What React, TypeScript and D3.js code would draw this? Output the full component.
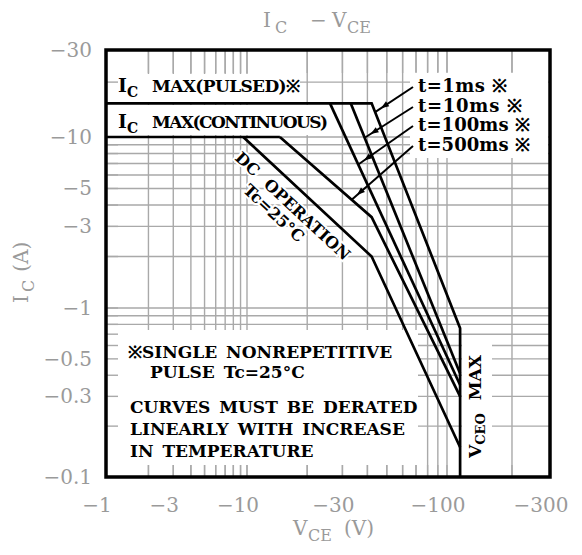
import React from 'react';
import * as d3 from 'd3';

const W = 582;
const H = 555;

// labelled ticks
const vceTicks = [-1, -3, -10, -30, -100, -300];
const icTicks = [-0.1, -0.3, -0.5, -1, -3, -5, -10, -30];

// grid lines of the datasheet paper
const vceGrid = [-2, -3, -4, -5, -6, -7, -8, -9, -10, -20, -30, -40, -50, -60, -70, -80, -90, -100, -200];
const icGrid = [-0.2, -0.3, -0.4, -0.5, -0.6, -0.7, -0.8, -0.9, -1, -2, -3, -4, -5, -6, -7, -8, -9, -10, -20];

// safe operating area curves (VCE in V, IC in A)
const icContVce = [-1, -14.6];
const icContIc = [-10, -10];
const dcVce = [-9.4, -42, -115];
const dcIc = [-10, -2, -0.15];
const t500Vce = [-14.6, -42, -115];
const t500Ic = [-10, -3.4, -0.3];
const t100Vce = [-26, -115];
const t100Ic = [-15.3, -0.35];
const t10Vce = [-33, -115];
const t10Ic = [-15.3, -0.41];
const t1Vce = [-1, -42, -115, -115];
const t1Ic = [-15.3, -15.3, -0.76, -0.1];

// pulse labels and where their leaders touch the curves
const pulseLabels = ['t=1ms ※', 't=10ms ※', 't=100ms ※', 't=500ms ※'];
const pulseLabelWidths = [89, 104, 112, 112];
const leaderIc = [-13.7, -9.9, -6.9, -4.3];

const noteLines = ['※SINGLE NONREPETITIVE', 'PULSE Tc=25°C', 'CURVES MUST BE DERATED', 'LINEARLY WITH INCREASE', 'IN TEMPERATURE'];

const x = d3.scaleLog().domain([-1, -10, -100, -300]).range([106, 247, 447, 550]);
const y = d3.scaleLog().domain([-0.1, -1, -10, -30]).range([477, 308, 137, 50]);

const GRAY = '#a9a9a9';
const AXIS = '#9a9a9a';
const SERIF = '"DejaVu Serif", serif';

const toPts = (vs: number[], is: number[]) => vs.map((v, i) => [x(v), y(is[i])] as [number, number]);
const line = d3.line();

// point on a curve (pixel space) at a given current
function pointAt(pts: [number, number][], py: number): [number, number] {
  for (let i = 0; i < pts.length - 1; i++) {
    const [x0, y0] = pts[i];
    const [x1, y1] = pts[i + 1];
    if ((py - y0) * (py - y1) <= 0 && y1 !== y0) {
      const t = (py - y0) / (y1 - y0);
      return [x0 + t * (x1 - x0), py];
    }
  }
  return pts[0];
}

export default function App() {
  const left = x(-1), right = x(-300), top = y(-30), bottom = y(-0.1);
  const curves = [
    toPts(icContVce, icContIc),
    toPts(dcVce, dcIc),
    toPts(t500Vce, t500Ic),
    toPts(t100Vce, t100Ic),
    toPts(t10Vce, t10Ic),
    toPts(t1Vce, t1Ic),
  ];
  const pulseCurves = [curves[5], curves[4], curves[3], curves[2]];
  const labelBase = [92, 112, 131, 151];

  const boxes = [
    [108, 74, 300, 102],
    [108, 105, 329, 135],
    [410, 72, 548, 158],
    [108, 330, 418, 465],
    [462, 335, 492, 475],
  ];

  const dcAngle = (Math.atan2(curves[1][1][1] - curves[1][0][1], curves[1][1][0] - curves[1][0][0]) * 180) / Math.PI;

  return (
    <svg width={W} height={H} style={{ position: 'absolute', left: 0, top: 0, background: '#fff' }}>
      {/* grid */}
      <g stroke={GRAY} strokeWidth={1.4}>
        {vceGrid.map((v) => (
          <line key={'gx' + v} x1={x(v)} x2={x(v)} y1={top} y2={bottom} />
        ))}
        {icGrid.map((v) => (
          <line key={'gy' + v} x1={left} x2={right} y1={y(v)} y2={y(v)} />
        ))}
      </g>
      {/* white label areas */}
      {boxes.map((b, i) => (
        <rect key={'b' + i} x={b[0]} y={b[1]} width={b[2] - b[0]} height={b[3] - b[1]} fill="#fff" />
      ))}
      {/* edge ticks */}
      <g stroke={GRAY} strokeWidth={1.4}>
        {vceGrid.map((v) => (
          <g key={'tx' + v}>
            <line x1={x(v)} x2={x(v)} y1={top} y2={top + 23} />
            <line x1={x(v)} x2={x(v)} y1={bottom - 12} y2={bottom} />
          </g>
        ))}
        {icGrid.map((v) => (
          <line key={'ty' + v} x1={left} x2={left + 12} y1={y(v)} y2={y(v)} />
        ))}
      </g>
      {/* curves */}
      <g fill="none" stroke="#000" strokeWidth={2.7} strokeLinejoin="miter">
        {curves.map((c, i) => (
          <path key={'c' + i} d={line(c) || ''} />
        ))}
      </g>
      {/* leaders */}
      {pulseLabels.map((lab, i) => {
        const tip = pointAt(pulseCurves[i], y(leaderIc[i]));
        const sx = 413, sy = labelBase[i] - 5;
        const dx = tip[0] - sx, dy = tip[1] - sy;
        const len = Math.hypot(dx, dy);
        const ux = dx / len, uy = dy / len;
        const ax = tip[0] - ux * 7, ay = tip[1] - uy * 7;
        const bx = ax - ux * 8, by = ay - uy * 8;
        return (
          <g key={'l' + i}>
            <line x1={sx} y1={sy} x2={tip[0]} y2={tip[1]} stroke="#000" strokeWidth={2} />
            <path d={`M${ax},${ay}L${bx - uy * 3},${by + ux * 3}L${bx + uy * 3},${by - ux * 3}Z`} fill="#000" />
            <text x={418} y={labelBase[i]} fontFamily={SERIF} fontWeight={700} fontSize={18} textLength={pulseLabelWidths[i]} lengthAdjust="spacing">
              {lab}
            </text>
          </g>
        );
      })}
      {/* frame */}
      <rect x={left} y={top} width={right - left} height={bottom - top} fill="none" stroke="#000" strokeWidth={3.5} />

      {/* in-plot labels */}
      <g fontFamily={SERIF} fontWeight={700} fill="#000">
        <text x={118} y={92} fontSize={19}>
          I<tspan fontSize={14} dy={5}>C</tspan>
          <tspan x={152} dy={-5} fontSize={17} textLength={148} lengthAdjust="spacing">MAX(PULSED)※</tspan>
        </text>
        <text x={118} y={128} fontSize={19}>
          I<tspan fontSize={14} dy={5}>C</tspan>
          <tspan x={152} dy={-5} fontSize={17} textLength={176} lengthAdjust="spacing">MAX(CONTINUOUS)</tspan>
        </text>
        <g transform={`translate(234,159) rotate(${dcAngle})`} fontSize={16} stroke="#fff" strokeWidth={4} paintOrder="stroke">
          <text x={0} y={0} wordSpacing={7}>DC OPERATION</text>
          <text x={28} y={18}>Tc=25°C</text>
        </g>
        {noteLines.map((t, i) => (
          <text key={'n' + i} x={[128, 150, 130, 130, 130][i]} y={[358, 378, 413, 435, 457][i]} fontSize={17}
            wordSpacing={3}>
            {t}
          </text>
        ))}
        <text transform="translate(481,458) rotate(-90)" fontSize={17}>
          V<tspan fontSize={13} dy={4}>CEO</tspan>
          <tspan dy={-4} dx={13}>MAX</tspan>
        </text>
      </g>

      {/* axis labels */}
      <g fontFamily={SERIF} fontSize={20} fill={AXIS}>
        {vceTicks.map((v) => (
          <text key={'xl' + v} x={x(v) - 9} y={512} textAnchor="middle">
            {'−' + Math.abs(v)}
          </text>
        ))}
        {icTicks.map((v) => (
          <text key={'yl' + v} x={92} y={y(v) + 7} textAnchor="end">
            {'−' + Math.abs(v)}
          </text>
        ))}
        <text x={263} y={27}>
          I<tspan x={275} dy={6} fontSize={16}>C</tspan>
          <tspan x={310} dy={-6}>−</tspan>
          <tspan x={332}>V</tspan>
          <tspan x={347} dy={6} fontSize={16}>CE</tspan>
        </text>
        <text x={293} y={535}>
          V<tspan x={308} dy={6} fontSize={16}>CE</tspan>
          <tspan x={344} dy={-6}>(V)</tspan>
        </text>
        <text transform="translate(28,303) rotate(-90)">
          I<tspan dx={3} dy={6} fontSize={16}>C</tspan>
          <tspan dx={8} dy={-6}>(A)</tspan>
        </text>
      </g>
    </svg>
  );
}
